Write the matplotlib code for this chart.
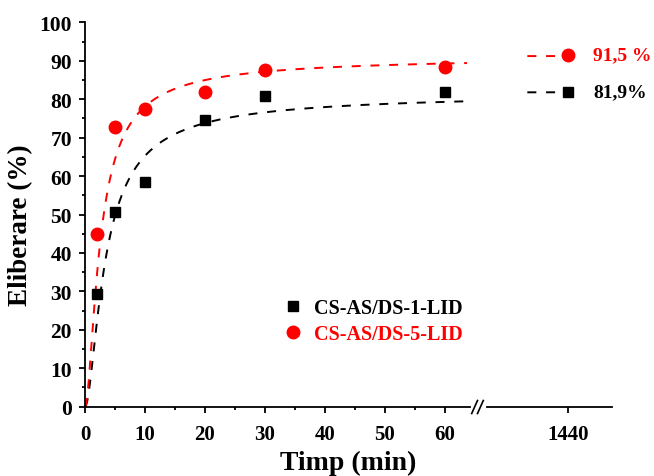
import numpy as np
import matplotlib
matplotlib.use("Agg")
import matplotlib.pyplot as plt
from matplotlib.lines import Line2D
from matplotlib.ticker import MultipleLocator, FixedLocator

plt.rcParams['font.family'] = ['Liberation Serif', 'DejaVu Serif']
plt.rcParams['font.weight'] = 'bold'
plt.rcParams['lines.scale_dashes'] = False

# Release data (time in minutes, cumulative release in %)
time_min = [2, 5, 10, 20, 30, 60]
release_lid1 = [29.2, 50.6, 58.5, 74.7, 80.9, 81.8]
release_lid5 = [44.9, 72.8, 77.4, 81.9, 87.6, 88.3]
time_final = 1440
final_lid1 = 81.9
final_lid5 = 91.5
label_lid1 = "CS-AS/DS-1-LID"
label_lid5 = "CS-AS/DS-5-LID"
final_text_lid1 = "81,9%"
final_text_lid5 = "91,5 %"

# Fitted release model parameters: (plateau, b, c) for  y = P t^2 / (b + c t + t^2)
fit_lid1 = (81.9, 7.0, 1.85)
fit_lid5 = (91.3, 4.0, 1.29)

RED = "#ff0000"
BLACK = "#000000"


def release_model(t, plateau, b, c):
    t = np.asarray(t, dtype=float)
    return plateau * t ** 2 / (b + c * t + t ** 2)


W, H = 654, 477
fig = plt.figure(figsize=(W / 100, H / 100), dpi=100)

ax_bottom = (H - 407.7) / H
ax_height = 384.4 / H
ax_l = fig.add_axes([85 / W, ax_bottom, 385 / W, ax_height])
ax_r = fig.add_axes([487 / W, ax_bottom, 125 / W, ax_height])

x_max_left = 385 / 6.0
t_curve = np.linspace(0, x_max_left - 0.5, 400)
t_curve_r = np.linspace(1340, time_final, 50)

dash = (6.5, 7)
lw = 1.4
for ax, tc in ((ax_l, t_curve), (ax_r, t_curve_r)):
    ax.plot(tc, release_model(tc, *fit_lid1), color=BLACK, lw=lw, ls='--', dashes=dash, zorder=2, clip_on=False)
    ax.plot(tc, release_model(tc, *fit_lid5), color=RED, lw=lw, ls='--', dashes=dash, zorder=2, clip_on=False)

h1, = ax_l.plot(time_min, release_lid1, ls='none', marker='s', ms=7.5, color=BLACK, zorder=3, clip_on=False)
h5, = ax_l.plot(time_min, release_lid5, ls='none', marker='o', ms=9, color=RED, zorder=3, clip_on=False)
ax_r.plot([time_final], [final_lid1], ls='none', marker='s', ms=7.5, color=BLACK, zorder=3, clip_on=False)
ax_r.plot([time_final], [final_lid5], ls='none', marker='o', ms=9, color=RED, zorder=3, clip_on=False)

ax_r.annotate(final_text_lid5, xy=(time_final, final_lid5), xytext=(18.5, 0), textcoords='offset points',
              va='center', ha='left', color=RED, fontsize=14, fontweight='bold', annotation_clip=False)
ax_r.annotate(final_text_lid1, xy=(time_final, final_lid1), xytext=(18.5, 0), textcoords='offset points',
              va='center', ha='left', color=BLACK, fontsize=14, fontweight='bold', annotation_clip=False)

# Axes styling
for ax in (ax_l, ax_r):
    ax.set_ylim(0, 100)
    ax.spines['top'].set_visible(False)
    ax.spines['right'].set_visible(False)
    ax.spines['bottom'].set_linewidth(1.3)
    ax.spines['left'].set_linewidth(1.3)
    ax.tick_params(which='major', direction='out', length=4.3, width=1.3, labelsize=15, pad=8)
    ax.tick_params(which='minor', direction='out', length=2.5, width=1.3)
    ax.patch.set_visible(False)

ax_l.set_xlim(0, x_max_left)
ax_l.xaxis.set_major_locator(FixedLocator([0, 10, 20, 30, 40, 50, 60]))
ax_l.xaxis.set_minor_locator(FixedLocator([5, 15, 25, 35, 45, 55]))
ax_l.yaxis.set_major_locator(MultipleLocator(10))
ax_l.yaxis.set_minor_locator(MultipleLocator(5))
ax_l.tick_params(axis='y', pad=5, labelsize=15.5)

ax_r.set_xlim(1240, 1550)
ax_r.xaxis.set_major_locator(FixedLocator([time_final]))
ax_r.spines['left'].set_visible(False)
ax_r.yaxis.set_visible(False)

for lbl in ax_l.get_xticklabels() + ax_l.get_yticklabels() + ax_r.get_xticklabels():
    lbl.set_fontweight('bold')

ax_l.set_ylabel("Eliberare (%)", fontsize=19.5, fontweight='bold')
ax_l.yaxis.set_label_coords(-0.135, 0.475)
fig.text(348 / W, 1 - 463 / H, "Timp (min)", fontsize=20, fontweight='bold', ha='center', va='center')

leg = ax_l.legend([h1, h5], [label_lid1, label_lid5], loc='center left',
                  bbox_to_anchor=((283.3 - 85) / 385, (407.7 - 322) / 384.4),
                  frameon=False, borderpad=0, borderaxespad=0, handlelength=1.0, handletextpad=0.5,
                  labelspacing=0.33, prop={'size': 14.5, 'weight': 'bold'})
leg.get_texts()[0].set_color(BLACK)
leg.get_texts()[1].set_color(RED)

# Axis break marks
for x0 in (471.7, 477.5):
    fig.add_artist(Line2D([x0 / W, (x0 + 5.8) / W], [1 - 414.5 / H, 1 - 401.5 / H],
                          color=BLACK, lw=1.2, transform=fig.transFigure))

fig.savefig("out.png", dpi=100)
